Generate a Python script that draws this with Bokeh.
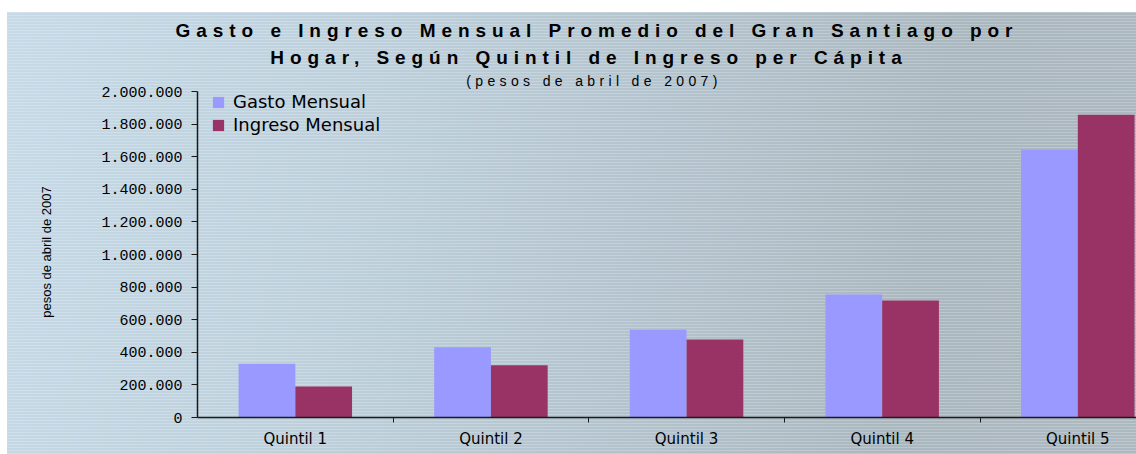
from bokeh.plotting import figure
from bokeh.models import ColumnDataSource, Range1d, FixedTicker, Div, Legend
from bokeh.layouts import column, row
from bokeh.transform import dodge
from bokeh.embed import file_html
from bokeh.resources import INLINE

# ---------------- data ----------------
categories = ["Quintil 1", "Quintil 2", "Quintil 3", "Quintil 4", "Quintil 5"]
gasto_mensual = [330000, 431000, 538000, 755000, 1642000]
ingreso_mensual = [190000, 320000, 478000, 718000, 1857000]
series_names = ["Gasto Mensual", "Ingreso Mensual"]
y_tick_values = [0, 200000, 400000, 600000, 800000, 1000000,
                 1200000, 1400000, 1600000, 1800000, 2000000]
y_tick_labels = ["0", "200.000", "400.000", "600.000", "800.000", "1.000.000",
                 "1.200.000", "1.400.000", "1.600.000", "1.800.000", "2.000.000"]
title_lines = ["Gasto e Ingreso Mensual Promedio del Gran Santiago por",
               "Hogar, Según Quintil de Ingreso per Cápita"]
subtitle = "(pesos de abril de 2007)"
y_axis_title = "pesos de abril de 2007"

# ---------------- styles ----------------
BLUE = "#9999FF"
RED = "#993366"
AXIS = "#1a1a1a"

x_pos = [i + 0.5 for i in range(len(categories))]
separators = [i for i in range(1, len(categories))]

src = ColumnDataSource(dict(x=x_pos, cat=categories,
                            gasto=gasto_mensual, ingreso=ingreso_mensual))

p = figure(width=1048, height=378,
           x_range=Range1d(0, 4.80), y_range=Range1d(0, 2000000),
           output_backend="svg", toolbar_location=None,
           min_border_left=109, min_border_right=0,
           min_border_top=15, min_border_bottom=37,
           background_fill_alpha=0, border_fill_alpha=0,
           outline_line_color=None, margin=0)

r1 = p.vbar(x=dodge("x", -0.145, range=p.x_range), top="gasto", width=0.29,
            source=src, fill_color=BLUE, line_color=None)
r2 = p.vbar(x=dodge("x", 0.145, range=p.x_range), top="ingreso", width=0.29,
            source=src, fill_color=RED, line_color=None)

p.xgrid.visible = False
p.ygrid.visible = False

xa = p.xaxis[0]
xa.ticker = FixedTicker(ticks=x_pos, minor_ticks=separators)
xa.major_label_overrides = {x: c for x, c in zip(x_pos, categories)}
xa.major_tick_out = 0
xa.major_tick_in = 0
xa.minor_tick_out = 5
xa.minor_tick_in = 0
xa.minor_tick_line_color = AXIS
xa.axis_line_color = AXIS
xa.axis_line_width = 1.5
xa.major_label_standoff = 7
xa.major_label_text_font = "DejaVu Sans"
xa.major_label_text_font_size = "15px"
xa.major_label_text_color = "#000000"

ya = p.yaxis[0]
ya.ticker = FixedTicker(ticks=y_tick_values)
ya.major_label_overrides = {v: l for v, l in zip(y_tick_values, y_tick_labels)}
ya.major_tick_out = 6
ya.major_tick_in = 0
ya.minor_tick_out = 0
ya.minor_tick_in = 0
ya.major_tick_line_color = AXIS
ya.axis_line_color = AXIS
ya.axis_line_width = 1.5
ya.major_label_standoff = 9
ya.major_label_text_font = "Liberation Mono"
ya.major_label_text_font_size = "15px"
ya.major_label_text_color = "#000000"

legend = Legend(items=[(series_names[0], [r1]), (series_names[1], [r2])],
                location=(14, 282), margin=0, padding=0,
                border_line_color=None, background_fill_alpha=0,
                glyph_width=14, glyph_height=14, label_standoff=8,
                label_height=20, spacing=2,
                label_text_font="DejaVu Sans", label_text_font_size="18px",
                label_text_color="#000000")
p.add_layout(legend)

title_html = (
    "<div style=\"position:relative;width:1136px;height:96px;"
    "font-family:'Liberation Sans',Arial,sans-serif;color:#000;\">"
    "<div style=\"position:absolute;left:597px;top:20px;transform:translateX(-50%);"
    "white-space:nowrap;font-weight:bold;font-size:19px;letter-spacing:5.95px;"
    f"line-height:normal;\">{title_lines[0]}</div>"
    "<div style=\"position:absolute;left:589px;top:47px;transform:translateX(-50%);"
    "white-space:nowrap;font-weight:bold;font-size:19px;letter-spacing:5.95px;"
    f"line-height:normal;\">{title_lines[1]}</div>"
    "<div style=\"position:absolute;left:594px;top:73px;transform:translateX(-50%);"
    "white-space:nowrap;font-size:14px;letter-spacing:4.35px;"
    f"line-height:normal;\">{subtitle}</div>"
    "</div>"
)
title_div = Div(text=title_html, width=1136, height=96, margin=0)

ylab_html = (
    "<div style=\"position:relative;width:88px;height:378px;"
    "font-family:'Liberation Sans',Arial,sans-serif;color:#000;\">"
    "<div style=\"position:absolute;left:46px;top:176px;"
    "transform:translate(-50%,-50%) rotate(-90deg);white-space:nowrap;"
    f"font-size:13px;line-height:normal;\">{y_axis_title}</div>"
    "</div>"
)
ylab_div = Div(text=ylab_html, width=88, height=378, margin=0)

background = (
    "linear-gradient(#ffffff, #ffffff) 0 0 / 100% 12px no-repeat, "
    "linear-gradient(#ffffff, #ffffff) 0 0 / 7px 100% no-repeat, "
    "repeating-linear-gradient(180deg, rgba(255,255,255,0.22) 0px, "
    "rgba(255,255,255,0.22) 1px, rgba(255,255,255,0) 1px, rgba(255,255,255,0) 3px), "
    "linear-gradient(100deg, #c6dae7 0%, #bdd0dc 30%, #b4c4ce 55%, #aab7bf 80%, #adb9c0 100%)"
)

plot_row = row(ylab_div, p, margin=(-20, 0, 0, 0))
layout = column(title_div, plot_row, margin=0, styles={"background": background})

open("out.html", "w").write(file_html(layout, INLINE))
